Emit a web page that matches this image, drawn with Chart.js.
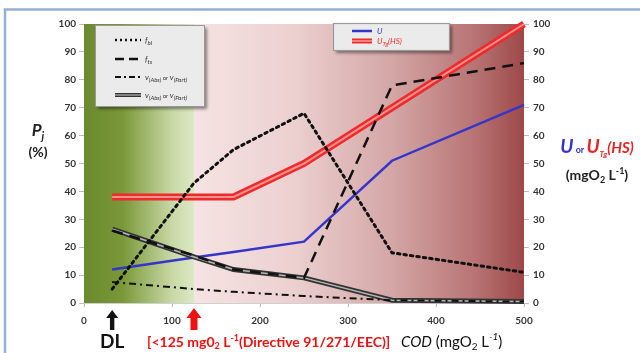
<!DOCTYPE html>
<html><head><meta charset="utf-8">
<script src="https://cdn.jsdelivr.net/npm/chart.js@4.4.1/dist/chart.umd.min.js"></script>
<style>html,body{margin:0;padding:0;background:#fff;}canvas{display:block;}</style>
</head><body>
<canvas id="c" width="640" height="353"></canvas>
<script>
// ---- data ----
const cod   = [32, 125, 170, 250, 350, 500];   // COD (mgO2 L-1)
const fBl   = [5, 43, 55, 68, 18, 11];          // f_bl  (dotted)
const fTs   = [26, 17, 12, 9, 78, 86];          // f_ts  (dashed)
const vDash = [7.5, 5, 4, 2.5, 1, 0.5];         // v(Abs) or v(Part) dash-dot
const vSolid= [26.5, 16.5, 12, 9, 1, 0.5];      // v(Abs) or v(Part) solid
const uVals = [12, 16.3, 18.3, 22, 51, 71];     // U (blue)
const uTg   = [38, 38, 38, 50, 70, 100];        // U_Tg(HS) (red)
const xTicks = [0, 100, 200, 300, 400, 500];
const yTicks = [0,10,20,30,40,50,60,70,80,90,100];
const limitCOD = 125, dlCOD = 32;

const xy = a => a.map((v,i)=>({x:cod[i], y:v}));
const FONT = 'Lato, "Open Sans", sans-serif';
Chart.defaults.font.family = FONT;

function runs(ctx, x, y, parts, align){
  let w = 0;
  parts.forEach(p=>{ctx.font=p[1]; w+=ctx.measureText(p[0]).width;});
  let cx = align==='center' ? x - w/2 : x;
  ctx.textBaseline='alphabetic'; ctx.textAlign='left';
  parts.forEach(p=>{ctx.font=p[1]; ctx.fillStyle=p[2]; ctx.fillText(p[0], cx, y+(p[3]||0)); cx+=ctx.measureText(p[0]).width;});
}

const deco = {
  id:'deco',
  beforeDatasetsDraw(chart){
    const {ctx, chartArea:a, scales:{x}} = chart;
    const xl = x.getPixelForValue(limitCOD);
    ctx.save();
    let g = ctx.createLinearGradient(a.left,0,xl,0);
    g.addColorStop(0,'#6a8a2e'); g.addColorStop(0.35,'#7a9838'); g.addColorStop(0.8,'#c8d9a6'); g.addColorStop(1,'#dce8c4');
    ctx.fillStyle=g; ctx.fillRect(a.left,a.top,xl-a.left,a.bottom-a.top);
    g = ctx.createLinearGradient(xl,0,a.right,0);
    g.addColorStop(0,'#f6e3e3'); g.addColorStop(0.3,'#ecd0d0'); g.addColorStop(0.6,'#d4a6a6'); g.addColorStop(0.85,'#b87474'); g.addColorStop(1,'#9e4848');
    ctx.fillStyle=g; ctx.fillRect(xl,a.top,a.right-xl,a.bottom-a.top);
    ctx.restore();
  },
  afterDatasetsDraw(chart){
    const {ctx} = chart;
    ctx.save();
    ctx.shadowColor='rgba(0,0,0,0.45)'; ctx.shadowOffsetX=3; ctx.shadowOffsetY=3; ctx.shadowBlur=3;
    ctx.fillStyle='#ebebeb'; ctx.fillRect(95,25,109,81);
    ctx.shadowColor='transparent';
    ctx.strokeStyle='#9a9a9a'; ctx.lineWidth=1; ctx.strokeRect(95.5,25.5,109,81);
    const ly=[40,59,77,95];
    const st=[{d:[2,3],w:2.5,c:'#111'},{d:[9,5],w:2.5,c:'#111'},{d:[6,3,2,3],w:2,c:'#111'},{d:[],w:4,c:'#333'}];
    st.forEach((s,i)=>{ctx.beginPath();ctx.setLineDash(s.d);ctx.lineWidth=s.w;ctx.strokeStyle=s.c;ctx.moveTo(115,ly[i]);ctx.lineTo(141,ly[i]);ctx.stroke();});
    ctx.setLineDash([]); ctx.beginPath(); ctx.lineWidth=1.2; ctx.strokeStyle='#bbb'; ctx.moveTo(115,ly[3]); ctx.lineTo(141,ly[3]); ctx.stroke();
    const sm='italic 8px '+FONT, sub='italic 6px '+FONT;
    runs(ctx,145,ly[0]+3,[['f',sm,'#333'],['bl',sub,'#333',2]]);
    runs(ctx,145,ly[1]+3,[['f',sm,'#333'],['ts',sub,'#333',2]]);
    runs(ctx,145,ly[2]+3,[['v',sm,'#333'],['(Abs)',sub,'#333',2],[' or ','6px '+FONT,'#333'],['v',sm,'#333'],['(Part)',sub,'#333',2]]);
    runs(ctx,145,ly[3]+3,[['v',sm,'#333'],['(Abs)',sub,'#333',2],[' or ','6px '+FONT,'#333'],['v',sm,'#333'],['(Part)',sub,'#333',2]]);
    ctx.shadowColor='rgba(0,0,0,0.45)'; ctx.shadowOffsetX=3; ctx.shadowOffsetY=3; ctx.shadowBlur=3;
    ctx.fillStyle='#ebebeb'; ctx.fillRect(333,23,116,27);
    ctx.shadowColor='transparent';
    ctx.strokeStyle='#9a9a9a'; ctx.strokeRect(333.5,23.5,116,27);
    ctx.beginPath(); ctx.lineWidth=2.5; ctx.strokeStyle='#3535cc'; ctx.moveTo(352,31); ctx.lineTo(372,31); ctx.stroke();
    ctx.beginPath(); ctx.lineWidth=5; ctx.strokeStyle='#ee2a2a'; ctx.moveTo(352,41); ctx.lineTo(372,41); ctx.stroke();
    ctx.beginPath(); ctx.lineWidth=1.5; ctx.strokeStyle='#ff9a9a'; ctx.moveTo(352,41); ctx.lineTo(372,41); ctx.stroke();
    runs(ctx,377,34,[['U',sm,'#3535cc']]);
    runs(ctx,377,44,[['U',sm,'#ee2a2a'],['Tg',sub,'#ee2a2a',2],['(HS)',sm,'#ee2a2a']]);
    ctx.restore();
  },
  afterDraw(chart){
    const {ctx, scales:{x}} = chart;
    ctx.save();
    runs(ctx,38,136,[['P','italic bold 17px '+FONT,'#222'],['j','italic bold 11px '+FONT,'#222',4]],'center');
    runs(ctx,38,157,[['(%)','bold 14px '+FONT,'#222']],'center');
    runs(ctx,597,153,[['U','italic bold 19px '+FONT,'#3333cc'],[' or ','bold 9px '+FONT,'#3333cc'],['U','italic bold 19px '+FONT,'#e52525'],['Tg','italic bold 8px '+FONT,'#e52525',4],['(HS)','italic bold 15px '+FONT,'#e52525']],'center');
    runs(ctx,597,180,[['(mgO','bold 14px '+FONT,'#222'],['2','bold 9px '+FONT,'#222',3],[' L','bold 14px '+FONT,'#222'],['-1','bold 9px '+FONT,'#222',-6],[')','bold 14px '+FONT,'#222']],'center');
    const xd = x.getPixelForValue(dlCOD);
    ctx.fillStyle='#111';
    ctx.beginPath(); ctx.moveTo(xd,310); ctx.lineTo(xd+6,318); ctx.lineTo(xd+2.2,318); ctx.lineTo(xd+2.2,330); ctx.lineTo(xd-2.2,330); ctx.lineTo(xd-2.2,318); ctx.lineTo(xd-6,318); ctx.closePath(); ctx.fill();
    runs(ctx,xd,348,[['DL','bold 19px '+FONT,'#111']],'center');
    const xl = x.getPixelForValue(limitCOD);
    ctx.fillStyle='#ee1111';
    ctx.beginPath(); ctx.moveTo(xl,308); ctx.lineTo(xl+7.5,318); ctx.lineTo(xl+3.5,318); ctx.lineTo(xl+3.5,330); ctx.lineTo(xl-3.5,330); ctx.lineTo(xl-3.5,318); ctx.lineTo(xl-7.5,318); ctx.closePath(); ctx.fill();
    runs(ctx,147,347,[['[<125 mg0','bold 14px '+FONT,'#ee1111'],['2','bold 9px '+FONT,'#ee1111',2],[' L','bold 14px '+FONT,'#ee1111'],['-1','bold 9px '+FONT,'#ee1111',-6],['(Directive 91/271/EEC)]','bold 14px '+FONT,'#ee1111']]);
    runs(ctx,401,347,[['COD','italic 15px '+FONT,'#111'],[' (mgO','15px '+FONT,'#111'],['2','10px '+FONT,'#111',3],[' L','15px '+FONT,'#111'],['-1','italic 10px '+FONT,'#111',-7],[')','15px '+FONT,'#111']]);
    ctx.strokeStyle='#93b1d6'; ctx.lineWidth=2.5;
    ctx.beginPath(); ctx.moveTo(5,353); ctx.lineTo(5,9.5); ctx.lineTo(640,9.5); ctx.stroke();
    ctx.restore();
  }
};

new Chart(document.getElementById('c'), {
  type:'line',
  data:{datasets:[
    {data:xy(uTg), borderColor:'#ee2a2a', borderWidth:7, order:11},
    {data:xy(uTg), borderColor:'#ff9090', borderWidth:2, order:10},
    {data:xy(uVals), borderColor:'#3535cc', borderWidth:2.5, order:9},
    {data:xy(vSolid), borderColor:'#333', borderWidth:5, order:8},
    {data:xy(vSolid), borderColor:'#b5b5b5', borderWidth:1.5, order:7},
    {data:xy(vDash), borderColor:'#111', borderWidth:2, borderDash:[7,4,2,4], order:6},
    {data:xy(fTs), borderColor:'#111', borderWidth:2.5, borderDash:[11,7], order:5},
    {data:xy(fBl), borderColor:'#111', borderWidth:3, borderDash:[2.5,4], borderCapStyle:'round', order:4}
  ].map(d=>Object.assign({pointRadius:0, tension:0, fill:false, clip:false, yAxisID:'y'},d))},
  plugins:[deco],
  options:{
    responsive:false, animation:false,
    layout:{padding:{top:24,left:0,right:0,bottom:0}},
    plugins:{legend:{display:false}, tooltip:{enabled:false}},
    scales:{
      x:{type:'linear', min:0, max:500, afterFit:s=>{s.height=50;},
         afterBuildTicks:s=>{s.ticks=xTicks.map(v=>({value:v}));},
         grid:{drawOnChartArea:false, tickLength:4, color:'#bdbdbd'}, border:{display:true,color:'#d0d0d0'},
         ticks:{font:{weight:'bold',size:10}, color:'#333', padding:8}},
      y:{position:'left', min:0, max:100, afterFit:s=>{s.width=84;},
         afterBuildTicks:s=>{s.ticks=yTicks.map(v=>({value:v}));},
         grid:{drawOnChartArea:false, tickLength:5, color:'#bdbdbd'}, border:{display:false},
         ticks:{font:{weight:'bold',size:10}, color:'#333', padding:3}},
      y1:{position:'right', display:true, min:0, max:100, afterFit:s=>{s.width=116;},
         afterBuildTicks:s=>{s.ticks=yTicks.map(v=>({value:v}));},
         grid:{drawOnChartArea:false, tickLength:5, color:'#bdbdbd'}, border:{display:false},
         ticks:{font:{weight:'bold',size:10}, color:'#333', padding:4}}
    }
  }
});
</script>
</body></html>
